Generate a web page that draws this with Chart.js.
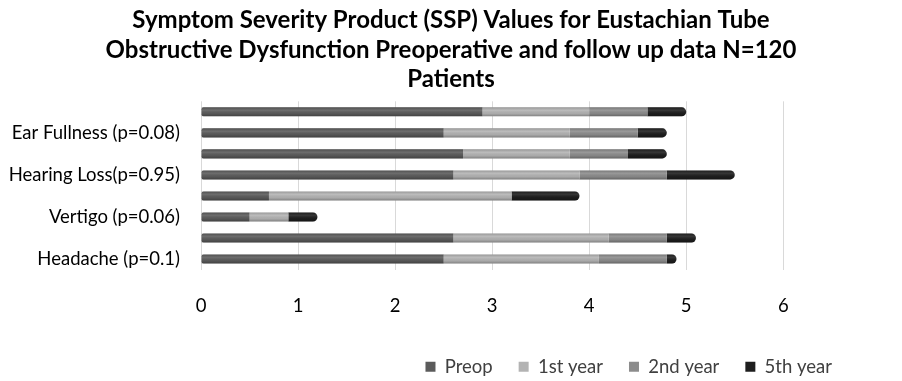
<!DOCTYPE html>
<html>
<head>
<meta charset="utf-8">
<script src="https://cdn.jsdelivr.net/npm/chart.js@4/dist/chart.umd.min.js"></script>
<style>
  html, body { margin: 0; padding: 0; background: #fff; }
  #wrap { width: 902px; height: 381px; }
</style>
</head>
<body>
<div id="wrap"><canvas id="sspChart" width="902" height="381"></canvas></div>
<script>
// symptom categories, top to bottom (every other row has no label in the source)
const categories = ["", "Ear Fullness (p=0.08)", "", "Hearing Loss(p=0.95)", "", "Vertigo (p=0.06)", "", "Headache (p=0.1)"];

const preop    = [2.9, 2.5, 2.7, 2.6, 0.7, 0.5, 2.6, 2.5];
const year1    = [1.1, 1.3, 1.1, 1.3, 2.5, 0.4, 1.6, 1.6];
const year2    = [0.6, 0.7, 0.6, 0.9, 0.0, 0.0, 0.6, 0.7];
const year5    = [0.4, 0.3, 0.4, 0.7, 0.7, 0.3, 0.3, 0.1];

const seriesNames = ["Preop", "1st year", "2nd year", "5th year"];
const seriesColors = ["#5b5b5b", "#b3b3b3", "#8c8c8c", "#1e1e1e"];

const titleLines = [
  "Symptom Severity Product (SSP) Values for Eustachian Tube",
  "Obstructive Dysfunction Preoperative and follow up data N=120",
  "Patients"
];

const FONT = "Lato, 'Open Sans', sans-serif";

const datasets = [preop, year1, year2, year5].map((vals, i) => ({
  label: seriesNames[i],
  data: vals,
  backgroundColor: seriesColors[i],
  borderWidth: 0,
  borderSkipped: false,
  borderRadius: i === 3 ? { topRight: 5, bottomRight: 5 } : (i === 0 ? { topLeft: 2, bottomLeft: 2 } : 0),
  categoryPercentage: 1,
  barPercentage: 0.43
}));

// soft cylinder shading over each bar segment
const shade = {
  id: "shade",
  afterDatasetsDraw(chart) {
    const ctx = chart.ctx;
    chart.data.datasets.forEach((ds, di) => {
      chart.getDatasetMeta(di).data.forEach(bar => {
        const w = bar.x - bar.base;
        if (w <= 0) return;
        const top = bar.y - bar.height / 2;
        const g = ctx.createLinearGradient(0, top, 0, top + bar.height);
        g.addColorStop(0, "rgba(0,0,0,0.18)");
        g.addColorStop(0.35, "rgba(255,255,255,0.10)");
        g.addColorStop(0.7, "rgba(0,0,0,0.05)");
        g.addColorStop(1, "rgba(0,0,0,0.28)");
        ctx.save();
        ctx.fillStyle = g;
        ctx.beginPath();
        if (di === 3) {
          ctx.roundRect(bar.base, top, w, bar.height, [0, 5, 5, 0]);
        } else {
          ctx.rect(bar.base, top, w, bar.height);
        }
        ctx.fill();
        ctx.restore();
      });
    });
  }
};

new Chart(document.getElementById("sspChart"), {
  type: "bar",
  data: { labels: categories, datasets: datasets },
  plugins: [shade],
  options: {
    indexAxis: "y",
    responsive: false,
    animation: false,
    layout: { padding: { left: 0, right: 0, top: 0, bottom: -5 } },
    scales: {
      x: {
        stacked: true,
        min: 0,
        max: 6.77,
        afterBuildTicks: s => { s.ticks = s.ticks.filter(t => Number.isInteger(t.value)); },
        afterFit: s => { s.height = 62; },
        border: { display: false },
        grid: { color: "#d9d9d9", drawTicks: false },
        ticks: { stepSize: 1, includeBounds: false, padding: 25, color: "#000", font: { family: FONT, size: 18.5 } }
      },
      y: {
        stacked: true,
        afterFit: s => { s.width = 201; },
        border: { display: false },
        grid: { display: false, drawTicks: false },
        ticks: { autoSkip: false, padding: 21, color: "#000", font: { family: FONT, size: 18.5 } }
      },
      // empty right margin so the plot ends where the reference does
      yRight: {
        type: "category",
        position: "right",
        afterFit: s => { s.width = 44; },
        border: { display: false },
        grid: { display: false, drawTicks: false },
        ticks: { display: false }
      }
    },
    plugins: {
      title: {
        display: true,
        text: titleLines,
        color: "#000",
        font: { family: FONT, size: 24, weight: "bold", lineHeight: 1.22 },
        padding: { top: 6, bottom: 7.5 }
      },
      legend: {
        position: "bottom",
        align: "end",
        fullSize: false,
        labels: {
          boxWidth: 10,
          boxHeight: 10,
          padding: 26,
          color: "#404040",
          font: { family: FONT, size: 18.5 }
        }
      },
      tooltip: { enabled: false }
    }
  }
});
</script>
</body>
</html>
